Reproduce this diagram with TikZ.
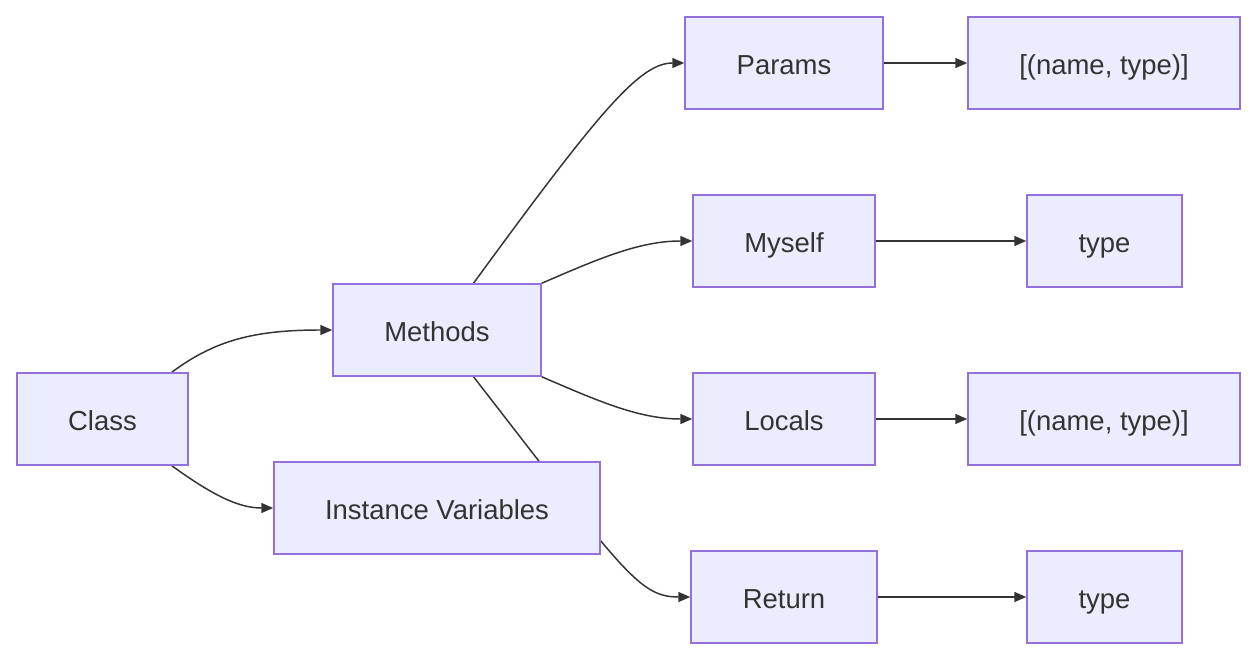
\documentclass[tikz,border=0pt]{standalone}
\usepackage{fontspec}
\setmainfont{Liberation Sans}
\usetikzlibrary{arrows.meta,backgrounds}
\definecolor{nodefill}{HTML}{ECECFF}
\definecolor{nodeline}{HTML}{9370DB}
\definecolor{edgecol}{HTML}{333333}
\begin{document}
\begin{tikzpicture}[x=0.75pt,y=-0.75pt,
  box/.style={draw=nodeline,fill=nodefill,line width=1.1pt,minimum height=69pt,inner sep=0pt,
    text height=17.8pt,text depth=0pt,
    text=edgecol,font=\fontsize{20.6}{24}\selectfont},
  edge/.style={draw=edgecol,line width=1.1pt,-{Triangle[length=9pt,width=7.5pt]}}]
\useasboundingbox (0,0) rectangle (1256,659);
\node[box,minimum width=128.25pt] (class) at (102.5,419) {Class};
\node[box,minimum width=156pt] (methods) at (437,330) {Methods};
\node[box,minimum width=244.5pt] (inst) at (437,508) {Instance Variables};
\node[box,minimum width=148.5pt] (params) at (784,63) {Params};
\node[box,minimum width=136.5pt] (myself) at (784,241) {Myself};
\node[box,minimum width=136.5pt] (locals) at (784,419) {Locals};
\node[box,minimum width=139.5pt] (return) at (784,597) {Return};
\node[box,minimum width=204pt] (plist) at (1104,63) {[(name, type)]};
\node[box,minimum width=116.25pt] (mtype) at (1104.5,241) {type};
\node[box,minimum width=204pt] (llist) at (1104,419) {[(name, type)]};
\node[box,minimum width=116.25pt] (rtype) at (1104.5,597) {type};
\coordinate (rb) at (600,540);
\begin{scope}[on background layer]
\draw[edge] (class.34) .. controls (215,340) and (255,330) .. (methods.west);
\draw[edge] (class.-34) .. controls (215,497) and (240,508) .. (inst.west);
\draw[edge] (methods.52) .. controls (600,110) and (640,63) .. (params.west);
\draw[edge] (methods.north east) .. controls (600,258) and (640,241) .. (myself.west);
\draw[edge] (methods.south east) .. controls (600,402) and (640,419) .. (locals.west);
\draw[edge] (methods.-52) -- (rb) .. controls (640,588) and (655,597) .. (return.west);
\draw[edge] (params.east) -- (plist.west);
\draw[edge] (myself.east) -- (mtype.west);
\draw[edge] (locals.east) -- (llist.west);
\draw[edge] (return.east) -- (rtype.west);
\end{scope}
\end{tikzpicture}
\end{document}
